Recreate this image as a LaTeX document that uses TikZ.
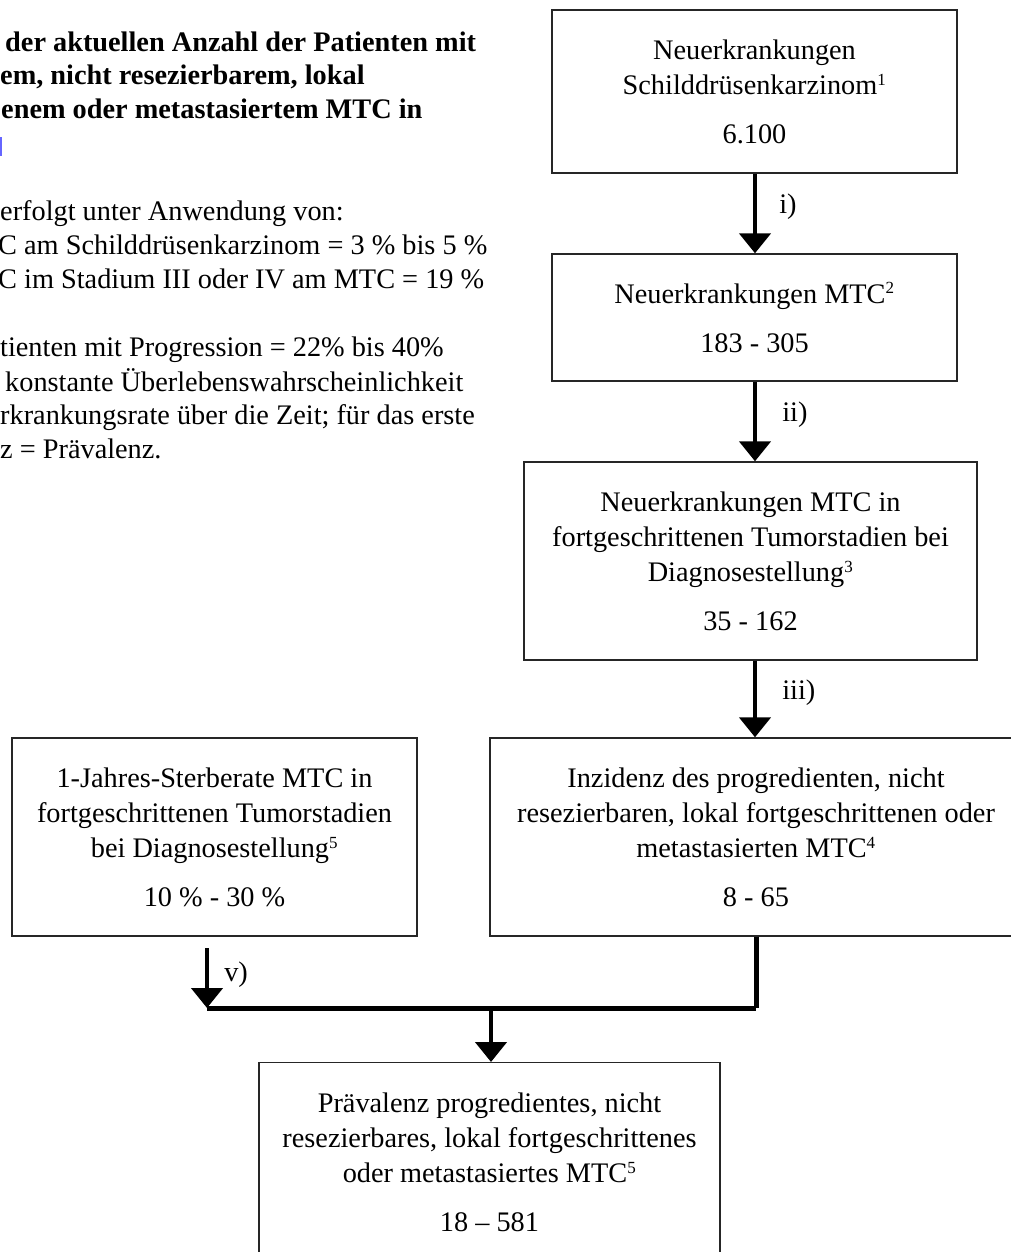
\documentclass[tikz,border=0pt]{standalone}
\usepackage{fontspec}
\setmainfont{Liberation Serif}
\usetikzlibrary{arrows.meta}
\tikzset{
  box/.style={draw=black!85, line width=1.4pt, inner sep=0pt, align=center,
    font=\fontsize{28.3}{35}\selectfont},
  flow/.style={line width=4.6pt, -{Triangle[width=31pt,length=20pt]}},
  bar/.style={line width=5pt},
  lbl/.style={font=\fontsize{28.3}{35}\selectfont, inner sep=0pt},
  lefttext/.style={anchor=base west, inner sep=0pt, font=\fontsize{28.3}{35}\selectfont},
  leftbold/.style={anchor=base west, inner sep=0pt, font=\fontsize{28.3}{35}\selectfont\bfseries},
}
\newcommand{\fnm}[1]{\textsuperscript{\fontsize{17}{17}\selectfont #1}}
\begin{document}
\begin{tikzpicture}[x=1pt,y=-1pt]
\useasboundingbox (0,0) rectangle (1011,1252);
\clip (0,0) rectangle (1011,1252);
% left text block
\node[leftbold] (t1) at (5,52) {der aktuellen Anzahl der Patienten mit};
\node[leftbold] (t2) at (0,85) {em, nicht resezierbarem, lokal};
\node[leftbold] (t3) at (1,119) {enem oder metastasiertem MTC in};
\fill[blue!60] (0,137) rectangle (2,156);
\node[lefttext] (t4) at (0,220) {erfolgt unter Anwendung von:};
\node[lefttext] (t5) at (-2,254) {C am Schilddrüsenkarzinom = 3 \% bis 5 \%};
\node[lefttext] (t6) at (-2,288) {C im Stadium III oder IV am MTC = 19 \%};
\node[lefttext] (t7) at (0,356) {tienten mit Progression = 22\% bis 40\%};
\node[lefttext] (t8) at (5,391) {konstante Überlebenswahrscheinlichkeit};
\node[lefttext] (t9) at (0,424) {rkrankungsrate über die Zeit; für das erste};
\node[lefttext] (t10) at (0,458) {z = Prävalenz.};
% boxes
\node[box, minimum width=405pt, minimum height=163pt] (b1) at (754.5,91.5)
  {Neuerkrankungen\\Schilddrüsenkarzinom\fnm{1}\\[14pt]6.100};
\node[box, minimum width=405pt, minimum height=127pt] (b2) at (754.5,317.5)
  {Neuerkrankungen MTC\fnm{2}\\[14pt]183 - 305};
\node[box, minimum width=453pt, minimum height=198pt] (b3) at (750.5,561)
  {Neuerkrankungen MTC in\\fortgeschrittenen Tumorstadien bei\\Diagnosestellung\fnm{3}\\[14pt]35 - 162};
\node[box, minimum width=405pt, minimum height=198pt] (b4) at (214.5,837)
  {1-Jahres-Sterberate MTC in\\fortgeschrittenen Tumorstadien\\bei Diagnosestellung\fnm{5}\\[14pt]10 \% - 30 \%};
\node[box, minimum width=532pt, minimum height=198pt] (b5) at (756,837)
  {Inzidenz des progredienten, nicht\\resezierbaren, lokal fortgeschrittenen oder\\metastasierten MTC\fnm{4}\\[14pt]8 - 65};
\node[box, minimum width=461pt, minimum height=200pt, anchor=north] (b6) at (489.5,1062)
  {Prävalenz progredientes, nicht\\resezierbares, lokal fortgeschrittenes\\oder metastasiertes MTC\fnm{5}\\[14pt]18 – 581};
% connectors
\draw[flow] (b1.south -| 755,0) -- (b2.north -| 755,0) node[lbl, pos=0.42, right=22pt] {i)};
\draw[flow] (b2.south -| 755,0) -- (b3.north -| 755,0) node[lbl, pos=0.42, right=25pt] {ii)};
\draw[flow] (b3.south -| 755,0) -- (b5.north -| 755,0) node[lbl, pos=0.42, right=25pt] {iii)};
\coordinate (vtop) at (207,948);
\coordinate (jl) at (207,1008);
\coordinate (jr) at (756,1008);
\coordinate (jm) at (491,1006);
\draw[flow] (vtop) -- (jl) node[lbl, pos=0.45, right=15pt] {v)};
\draw[bar] (jl) -- (jr);
\draw[bar] (b5.south) -- (jr);
\draw[flow] (jm) -- (b6.north -| jm);
\end{tikzpicture}
\end{document}
